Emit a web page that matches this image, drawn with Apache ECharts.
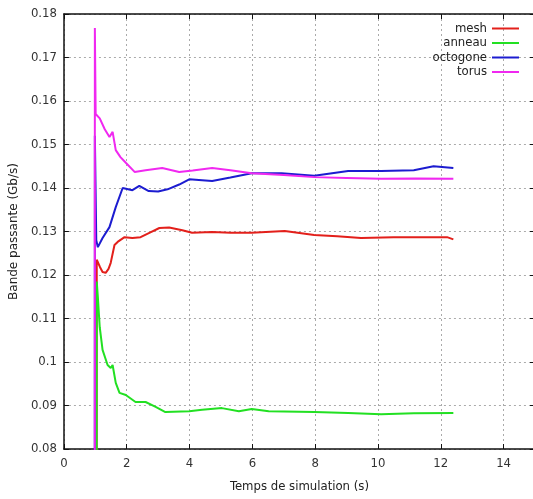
<!DOCTYPE html>
<html>
<head>
<meta charset="utf-8">
<script src="https://cdn.jsdelivr.net/npm/echarts@6/dist/echarts.min.js"></script>
<style>
  html, body { margin: 0; padding: 0; background: #fff; overflow: hidden; }
</style>
</head>
<body>
<div id="main" style="width: 540px;height:499px;"></div>
<script type="text/javascript">
    // données : [temps (s), bande passante (Gb/s)]
    var seriesNames = ['mesh', 'anneau', 'octogone', 'torus'];
    var seriesColors = ['#e3201b', '#22e022', '#1c1cd0', '#f028f0'];
    var xTicks = [0, 2, 4, 6, 8, 10, 12, 14];

    var mesh = [[1.04, 0], [1.045, 0.1235], [1.08, 0.1234], [1.15, 0.1218], [1.23, 0.1207], [1.33, 0.1205],
        [1.42, 0.1214], [1.49, 0.1228], [1.61, 0.1269], [1.71, 0.1276], [1.93, 0.1287], [2.18, 0.1285],
        [2.44, 0.1287], [2.72, 0.1297], [3.04, 0.1308], [3.35, 0.1309], [3.77, 0.1303], [4.08, 0.1297],
        [4.72, 0.1299], [5.3, 0.1297], [5.98, 0.1297], [7.03, 0.1301], [7.97, 0.1292], [8.7, 0.1289],
        [9.46, 0.1285], [10.5, 0.1287], [11.4, 0.1287], [12.2, 0.1287], [12.4, 0.1282]];

    var anneau = [[1.04, 0], [1.045, 0.1185], [1.08, 0.1149], [1.14, 0.108], [1.23, 0.1028], [1.39, 0.0993],
        [1.49, 0.0986], [1.55, 0.0993], [1.65, 0.0952], [1.77, 0.0929], [1.97, 0.0924], [2.28, 0.0908],
        [2.6, 0.0908], [2.92, 0.0897], [3.23, 0.0885], [3.99, 0.0887], [4.4, 0.089], [5.03, 0.0894],
        [5.57, 0.0887], [5.98, 0.0892], [6.52, 0.0887], [7.97, 0.0885], [9.05, 0.0883], [10.1, 0.088],
        [11.14, 0.0882], [12.4, 0.0883]];

    var octogone = [[0.98, 0], [0.985, 0.152], [1.03, 0.128], [1.08, 0.1264], [1.23, 0.1285], [1.45, 0.131],
        [1.65, 0.1356], [1.87, 0.14], [2.18, 0.1395], [2.4, 0.1405], [2.7, 0.1393], [3.0, 0.1392],
        [3.3, 0.1397], [3.67, 0.1408], [3.99, 0.142], [4.4, 0.1418], [4.72, 0.1416], [5.3, 0.1424],
        [5.98, 0.1434], [6.93, 0.1434], [7.97, 0.1428], [9.05, 0.1439], [10.1, 0.1439], [11.14, 0.1441],
        [11.77, 0.145], [12.4, 0.1446]];

    var torus = [[0.98, 0], [0.985, 0.1768], [1.01, 0.157], [1.14, 0.156], [1.3, 0.1535], [1.45, 0.1517],
        [1.55, 0.1529], [1.65, 0.1487], [1.8, 0.1471], [1.97, 0.1458], [2.25, 0.1437], [2.6, 0.1441],
        [3.13, 0.1446], [3.67, 0.1437], [4.1, 0.144], [4.72, 0.1446], [5.3, 0.1441], [5.98, 0.1434],
        [7.0, 0.143], [7.97, 0.1425], [9.0, 0.1423], [10.1, 0.1421], [11.2, 0.1422], [12.4, 0.1421]];

    var seriesData = [mesh, anneau, octogone, torus];

    var myChart = echarts.init(document.getElementById('main'));

    var series = [];
    for (var i = 0; i < seriesNames.length; i++) {
        series.push({
            name: seriesNames[i],
            type: 'line',
            data: seriesData[i],
            showSymbol: false,
            clip: true,
            lineStyle: { width: 2, color: seriesColors[i] },
            itemStyle: { color: seriesColors[i] }
        });
    }

    var narrow = "'DejaVu Sans Condensed', sans-serif";
    var tickFont = { fontFamily: narrow, fontSize: 13, color: '#333' };

    var option = {
        animation: false,
        backgroundColor: '#fff',
        grid: { left: 61, top: 14, right: 5, bottom: 50 },
        legend: {
            orient: 'vertical',
            right: 16,
            top: 17,
            align: 'right',
            itemWidth: 27,
            itemHeight: 2,
            itemGap: 1.5,
            icon: 'rect',
            data: seriesNames,
            textStyle: { fontFamily: narrow, fontSize: 13, color: '#222' }
        },
        xAxis: [{
            type: 'value',
            min: 0,
            max: 15,
            interval: 2,
            name: 'Temps de simulation (s)',
            nameLocation: 'middle',
            nameGap: 31,
            nameTextStyle: { fontFamily: narrow, fontSize: 13, color: '#222' },
            axisLine: { show: true, onZero: false, lineStyle: { color: '#111', width: 1.5 } },
            axisTick: { show: true, inside: true, length: 5, lineStyle: { color: '#111' } },
            axisLabel: Object.assign({ margin: 8, formatter: function (v) { return v === 15 ? '' : String(v); } }, tickFont),
            splitLine: { show: true, lineStyle: { color: '#aaa', type: [2, 3], width: 1 } }
        }, {
            type: 'value',
            position: 'top',
            min: 0,
            max: 15,
            interval: 2,
            axisLine: { show: true, onZero: false, lineStyle: { color: '#111', width: 1.5 } },
            axisTick: { show: true, inside: true, length: 5, lineStyle: { color: '#111' } },
            axisLabel: { show: false },
            splitLine: { show: false }
        }],
        yAxis: [{
            type: 'value',
            min: 0.08,
            max: 0.18,
            interval: 0.01,
            name: 'Bande passante (Gb/s)',
            nameLocation: 'middle',
            nameGap: 37,
            nameTextStyle: { fontFamily: 'DejaVu Sans', fontSize: 12, color: '#222' },
            axisLine: { show: true, onZero: false, lineStyle: { color: '#111', width: 1.5 } },
            axisTick: { show: true, inside: true, length: 5, lineStyle: { color: '#111' } },
            axisLabel: Object.assign({ margin: 7, formatter: function (v) { return String(+v.toFixed(2)); } }, tickFont),
            splitLine: { show: true, lineStyle: { color: '#aaa', type: [2, 3], width: 1 } }
        }, {
            type: 'value',
            position: 'right',
            min: 0.08,
            max: 0.18,
            interval: 0.01,
            axisLine: { show: true, onZero: false, lineStyle: { color: '#111', width: 1.5 } },
            axisTick: { show: true, inside: true, length: 5, lineStyle: { color: '#111' } },
            axisLabel: { show: false },
            splitLine: { show: false }
        }],
        series: series
    };

    myChart.setOption(option);
</script>
</body>
</html>
